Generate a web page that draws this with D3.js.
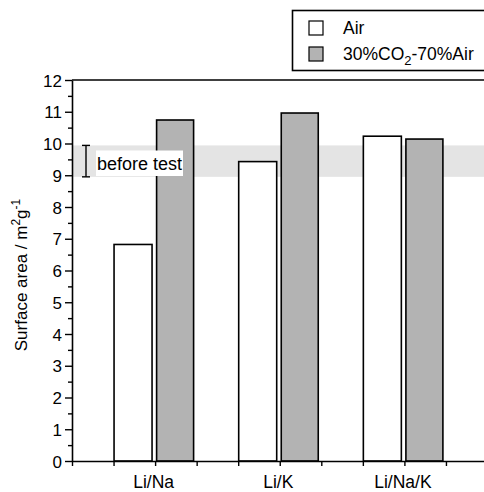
<!DOCTYPE html>
<html>
<head>
<meta charset="utf-8">
<script src="https://cdn.jsdelivr.net/npm/d3@7"></script>
<style>
  html, body { margin: 0; padding: 0; background: #fff; }
  svg { display: block; font-family: "Liberation Sans", Arial, Helvetica, sans-serif; }
</style>
</head>
<body>
<svg id="chart" width="484" height="492"></svg>
<script>
// Surface area of the carbonate samples after exposure
const categories = ["Li/Na", "Li/K", "Li/Na/K"];
const seriesKeys = ["air", "co2"];
const airValues = [6.82, 9.43, 10.23];
const co2Values = [10.74, 10.96, 10.14];
const beforeTestRange = [8.95, 9.94];
const yTicks = [0, 1, 2, 3, 4, 5, 6, 7, 8, 9, 10, 11, 12];
const legendLabels = ["Air", "30%CO2-70%Air"];

const svg = d3.select("#chart");
const plotLeft = 72, plotTop = 80, plotBottom = 461, plotRight = 487.5;

const y = d3.scaleLinear().domain([0, 12]).range([plotBottom, plotTop]);

// each group occupies three slots: a gap, the Air bar and the CO2 bar
const groupW = (plotRight - plotLeft) / 10 * 3;
const x0 = d3.scaleBand().domain(categories).range([plotLeft, plotLeft + groupW * 3]);
const x1 = d3.scaleBand().domain(["gap", ...seriesKeys]).range([0, x0.bandwidth()]);

const barFill = { air: "#ffffff", co2: "#b3b3b3" };
const barInset = { air: [0.5, 38], co2: [1.5, 37] };

// shaded band showing the surface area before the test
svg.append("rect")
  .attr("x", plotLeft)
  .attr("y", y(beforeTestRange[1]))
  .attr("width", 484 - plotLeft)
  .attr("height", y(beforeTestRange[0]) - y(beforeTestRange[1]))
  .attr("fill", "#e4e4e4");

// plot frame top edge
svg.append("line")
  .attr("x1", plotLeft).attr("x2", 484)
  .attr("y1", plotTop).attr("y2", plotTop)
  .attr("stroke", "#000").attr("stroke-width", 1.5);

// bars
const rows = categories.map((c, i) => ({ cat: c, air: airValues[i], co2: co2Values[i] }));
const groups = svg.append("g").selectAll("g").data(rows).join("g")
  .attr("transform", d => `translate(${x0(d.cat)},0)`);
groups.selectAll("rect")
  .data(d => seriesKeys.map(k => ({ key: k, value: d[k] })))
  .join("rect")
  .attr("x", d => x1(d.key) + barInset[d.key][0])
  .attr("width", d => barInset[d.key][1])
  .attr("y", d => y(d.value))
  .attr("height", d => y(0) - y(d.value))
  .attr("fill", d => barFill[d.key])
  .attr("stroke", "#000")
  .attr("stroke-width", 1.6);

// error bar marking the before-test spread
const bx = 86;
const eb = svg.append("g").attr("stroke", "#000").attr("stroke-width", 1.4);
eb.append("line").attr("x1", bx).attr("x2", bx)
  .attr("y1", y(beforeTestRange[1])).attr("y2", y(beforeTestRange[0]));
beforeTestRange.forEach(v => {
  eb.append("line").attr("x1", bx - 4).attr("x2", bx + 4)
    .attr("y1", y(v)).attr("y2", y(v));
});

// label box
svg.append("rect")
  .attr("x", 96).attr("y", 150.5).attr("width", 87).attr("height", 25.5)
  .attr("fill", "#fff");
svg.append("text")
  .attr("x", 97).attr("y", 169.5)
  .attr("font-size", 18)
  .attr("textLength", 85)
  .text("before test");

// y axis with half-unit minor ticks
const yMinor = d3.range(0.5, 12, 1);
svg.append("g")
  .attr("transform", `translate(${plotLeft},0)`)
  .call(d3.axisLeft(y).tickValues(yMinor).tickSize(4).tickFormat(""))
  .call(g => g.select(".domain").remove())
  .call(g => g.selectAll("line").attr("stroke-width", 1.4));
const yAxis = svg.append("g")
  .attr("transform", `translate(${plotLeft},0)`)
  .call(d3.axisLeft(y).tickValues(yTicks).tickSize(7).tickSizeOuter(0).tickPadding(3));
yAxis.select(".domain").attr("stroke-width", 1.6);
yAxis.selectAll("line").attr("stroke-width", 1.4);
yAxis.selectAll("text")
  .attr("font-size", 17)
  .attr("font-family", "Liberation Sans, Arial, sans-serif")
  .attr("dy", "0.36em")
  .attr("fill", "#000");

// x axis: ticks at every slot boundary, labels under the bar pairs
const xs = d3.scaleLinear().domain([0, 10]).range([plotLeft, plotRight]);
const xAxis = svg.append("g")
  .attr("transform", `translate(0,${plotBottom})`)
  .call(d3.axisBottom(xs).tickValues(d3.range(0, 10)).tickSize(5).tickSizeOuter(0).tickFormat(""));
xAxis.select(".domain").attr("stroke-width", 1.6);
xAxis.selectAll("line").attr("stroke-width", 1.4);

svg.append("g").selectAll("text").data(categories).join("text")
  .attr("x", d => x0(d) + x1("co2") - 1.5)
  .attr("y", 488)
  .attr("text-anchor", "middle")
  .attr("font-size", 17.5)
  .text(d => d);

// y axis title
svg.append("text")
  .attr("transform", `translate(27,275) rotate(-90)`)
  .attr("text-anchor", "middle")
  .attr("font-size", 17)
  .call(t => {
    t.append("tspan").text("Surface area / m");
    t.append("tspan").attr("dy", -7).attr("font-size", 12).text("2");
    t.append("tspan").attr("dy", 7).text("g");
    t.append("tspan").attr("dy", -7).attr("font-size", 12).text("-1");
  });

// legend
const lg = svg.append("g");
lg.append("rect")
  .attr("x", 292.5).attr("y", 10.5).attr("width", 200).attr("height", 60)
  .attr("fill", "#fff").attr("stroke", "#000").attr("stroke-width", 1.6);
seriesKeys.forEach((k, i) => {
  const yy = 21 + i * 26;
  lg.append("rect")
    .attr("x", 309).attr("y", yy).attr("width", 14).attr("height", 14)
    .attr("fill", barFill[k]).attr("stroke", "#000").attr("stroke-width", 1.2);
  const t = lg.append("text").attr("x", 343).attr("y", yy + 13).attr("font-size", 17.5);
  if (k === "air") {
    t.text(legendLabels[0]);
  } else {
    const m = legendLabels[1].match(/^(.*CO)(2)(.*)$/);
    t.append("tspan").text(m[1]);
    t.append("tspan").attr("dy", 5).attr("font-size", 13).text(m[2]);
    t.append("tspan").attr("dy", -5).text(m[3]);
  }
});
</script>
</body>
</html>
